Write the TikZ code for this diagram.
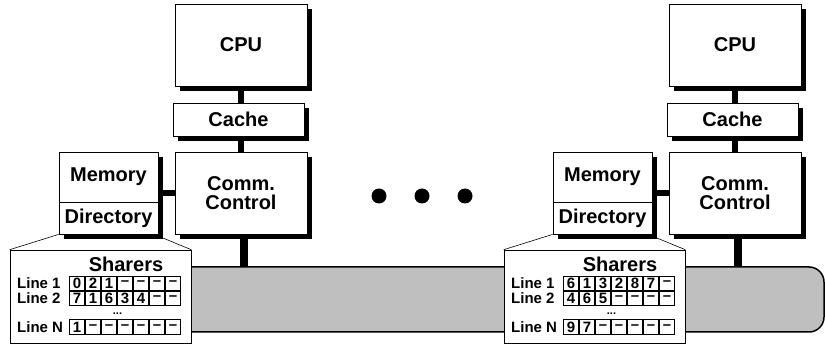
\documentclass[tikz,border=0pt]{standalone}
\usepackage{fontspec}
\setmainfont{Liberation Sans}

\tikzset{
  unit/.style={draw, line width=0.8pt, fill=white, inner sep=0pt, align=center,
    font=\fontsize{20}{19}\selectfont\bfseries},
  shadowbox/.style={fill=black, draw=none, inner sep=0pt, outer sep=0pt, anchor=north west},
  link/.style={line width=5.5pt},
  buslink/.style={line width=8pt},
  bus/.style={draw, line width=1.5pt, fill=gray!50, rounded corners=15pt, inner sep=0pt},
  popup/.style={draw, line width=0.6pt, fill=white, inner sep=0pt},
  cell/.style={draw, line width=0.6pt, inner sep=0pt, minimum width=15.4pt, minimum height=14.4pt,
    font=\fontsize{15}{15}\selectfont\bfseries},
  rowlabel/.style={anchor=west, inner sep=0pt, font=\fontsize{15}{15}\selectfont\bfseries},
  dot/.style={circle, fill=black, inner sep=0pt, minimum size=15pt},
}

\begin{document}
\begin{tikzpicture}[x=1pt,y=-1pt]
  \useasboundingbox (0,0) rectangle (825,347);
  % shared bus
  \node[bus, minimum width=724pt, minimum height=65pt] (bus) at (462,299.5) {};
  % two nodes
  \foreach \g/\dx/\ra/\rb/\rn in {l/0/{0,2,1,--,--,--,--}/{7,1,6,3,4,--,--}/{1,--,--,--,--,--,--},
                                  r/494/{6,1,3,2,8,7,--}/{4,6,5,--,--,--,--}/{9,7,--,--,--,--,--}} {
    % shadows behind
    \node[shadowbox, minimum width=132pt, minimum height=82pt] (cpush-\g) at (180+\dx,9) {};
    \node[shadowbox, minimum width=131pt, minimum height=33pt] (cachesh-\g) at (178+\dx,108) {};
    \node[shadowbox, minimum width=132pt, minimum height=82pt] (commsh-\g) at (180+\dx,157) {};
    \node[shadowbox, minimum width=99pt, minimum height=82pt] (memsh-\g) at (64+\dx,157) {};
    % boxes
    \node[unit, minimum width=132pt, minimum height=82pt] (cpu-\g) at (241+\dx,45) {CPU};
    \node[unit, minimum width=131pt, minimum height=33pt] (cache-\g) at (238.5+\dx,119.5) {Cache};
    \node[unit, minimum width=132pt, minimum height=82pt] (comm-\g) at (241+\dx,193) {Comm.\\Control};
    \node[unit, minimum width=99pt, minimum height=50pt] (mem-\g) at (108.5+\dx,177) {Memory};
    \node[unit, minimum width=99pt, minimum height=32pt] (dir-\g) at (108.5+\dx,218) {Directory};
    % shadow strips on right and bottom edges
    \foreach \a/\b/\w/\h in {cpu/cpu/132/82,cache/cache/131/33,comm/comm/132/82,mem/dir/99/82} {
      \node[shadowbox, minimum width=5pt, minimum height=\h pt] (\a-\g-sr) at ([yshift=-5pt]\a-\g.north east) {};
      \node[shadowbox, minimum width=\w pt, minimum height=5pt] (\a-\g-sb) at ([xshift=5pt]\b-\g.south west) {};
    }
    \draw[link] (cpu-\g.south) -- (cpu-\g.south |- cache-\g.north);
    \draw[link] (comm-\g.north) -- (comm-\g.north |- cache-\g.south);
    \draw[link] (comm-\g.west) -- (comm-\g.west -| mem-\g.east);
    \draw[buslink] ([xshift=3pt]comm-\g.south) -- ([xshift=3pt]comm-\g.south |- bus.north);
    % directory contents
    \node[popup, minimum width=181pt, minimum height=93pt] (pop-\g) at (100.5+\dx,296.5) {};
    \draw[line width=0.6pt] (pop-\g.north west) -- (dir-\g.south west);
    \draw[line width=0.6pt] (pop-\g.north east) -- ([shift={(3pt,-3pt)}]dir-\g.south east);
    \node[font=\fontsize{20}{20}\selectfont\bfseries, inner sep=0pt] (shr-\g) at (126+\dx,264.5) {Sharers};
    \node[rowlabel] (la-\g) at (17+\dx,283.5) {Line 1};
    \node[rowlabel] (lb-\g) at (17+\dx,298.5) {Line 2};
    \node[rowlabel] (ln-\g) at (17+\dx,327) {Line N};
    \node[font=\fontsize{11}{11}\selectfont\bfseries, inner sep=0pt] (more-\g) at (117.5+\dx,314) {...};
    \foreach \v [count=\c] in \ra \node[cell] (ca-\g-\c) at (61+16*\c+\dx,283.5) {\v};
    \foreach \v [count=\c] in \rb \node[cell] (cb-\g-\c) at (61+16*\c+\dx,298.5) {\v};
    \foreach \v [count=\c] in \rn \node[cell] (cn-\g-\c) at (61+16*\c+\dx,327) {\v};
  }
  % more nodes
  \node[dot] (dot1) at (379,196) {};
  \node[dot] (dot2) at (422,196) {};
  \node[dot] (dot3) at (465,196) {};
\end{tikzpicture}
\end{document}
